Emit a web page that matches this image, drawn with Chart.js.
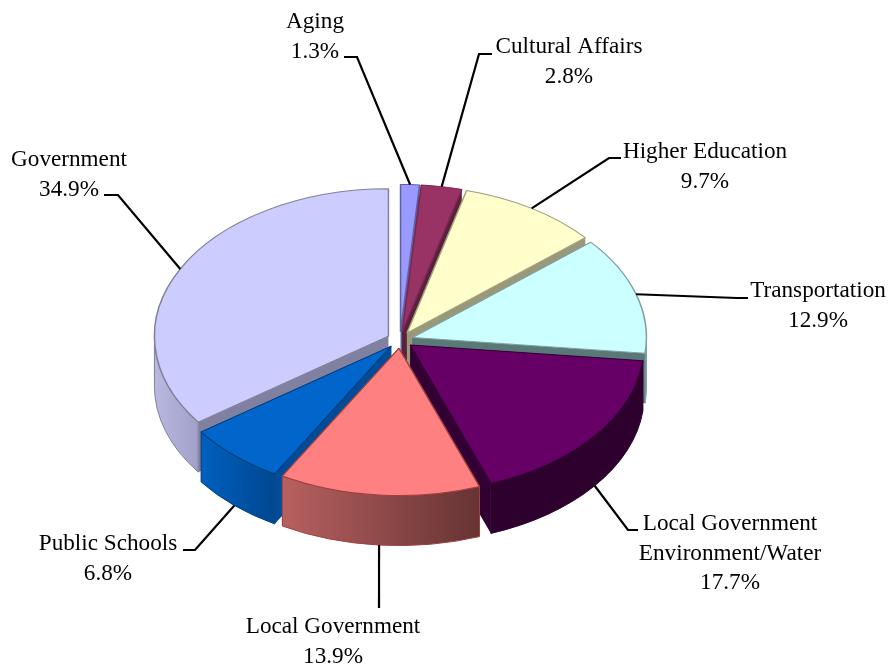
<!DOCTYPE html>
<html>
<head>
<meta charset="utf-8">
<title>Budget share by function</title>
<script src="https://cdn.jsdelivr.net/npm/chart.js@4"></script>
<style>
    html, body { margin: 0; padding: 0; background: #fff; }
    canvas { display: block; }
</style>
</head>
<body>
<canvas id="pie" width="892" height="669"></canvas>
<script>
// Chart data
const categories = ['Aging', 'Cultural Affairs', 'Higher Education', 'Transportation',
    'Local Government Environment/Water', 'Local Government', 'Public Schools', 'Government'];
const shares = [1.3, 2.8, 9.7, 12.9, 17.7, 13.9, 6.8, 34.9];

// Slice colours
const topColors = ['#9999FF', '#993366', '#FFFFCC', '#CCFFFF', '#660066', '#FF8080', '#0066CC', '#CCCCFF'];
const edgeColors = ['#6060A0', '#7A2850', '#A0A080', '#7F9F9F', '#330033', '#A04040', '#004080', '#808098'];
const faceColors = ['#5C5C99', '#5C1F3D', '#99997A', '#5B7878', '#330033', '#804040', '#004C99', '#8080A0'];
const wallLeft = ['#5C5C99', '#5C1F3D', '#99997A', '#5B7878', '#2E002E', '#B86060', '#0060BF', '#B8B8E0'];
const wallRight = ['#5C5C99', '#5C1F3D', '#99997A', '#5B7878', '#2E002E', '#663333', '#00478F', '#A0A0C8'];

// Label placement: text lines, text centre, first baseline, leader elbow and leader end
const labelLines = [
    ['Aging', '1.3%'], ['Cultural Affairs', '2.8%'], ['Higher Education', '9.7%'], ['Transportation', '12.9%'],
    ['Local Government', 'Environment/Water', '17.7%'], ['Local Government', '13.9%'], ['Public Schools', '6.8%'], ['Government', '34.9%']
];
const labelAnchors = [[315, 28], [569, 53], [705, 158], [818, 297], [730, 530], [333, 633], [108, 550], [69, 166]];
const leaderPaths = [
    [[357, 57], [344, 57]], [[479, 54], [492, 54]], [[609, 158], [621, 158]], [[737, 298], [748, 298]],
    [[628, 530], [638, 530]], [[379, 608]], [[195, 550], [183, 550]], [[118, 195], [104, 195]]
];

// 3D look
const TILT = 0.63;
const DEPTH = 50;
const EXPLODE = 13;
const FONT = '23.2px "Liberation Serif"';

const slicePlacement = (arc) => {
    const mid = (arc.startAngle + arc.endAngle) / 2;
    return { mid, ox: Math.cos(mid) * EXPLODE, oy: Math.sin(mid) * EXPLODE * TILT };
};

const rimPoint = (arc, angle, ox, oy) => ({
    x: arc.x + ox + Math.cos(angle) * arc.outerRadius,
    y: arc.y + oy + Math.sin(angle) * arc.outerRadius * TILT
});

const drawRadialFace = (ctx, arc, angle, ox, oy, color) => {
    const rim = rimPoint(arc, angle, ox, oy);
    ctx.beginPath();
    ctx.moveTo(arc.x + ox, arc.y + oy);
    ctx.lineTo(rim.x, rim.y);
    ctx.lineTo(rim.x, rim.y + DEPTH);
    ctx.lineTo(arc.x + ox, arc.y + oy + DEPTH);
    ctx.closePath();
    ctx.fillStyle = color;
    ctx.fill();
};

const drawOuterWall = (ctx, arc, index, ox, oy) => {
    // only the front half of the rim can be seen
    const from = Math.max(arc.startAngle, 0);
    const to = Math.min(arc.endAngle, Math.PI);
    const ranges = [[from, to]];
    if (arc.endAngle > 2 * Math.PI) ranges.push([2 * Math.PI, Math.min(arc.endAngle, 3 * Math.PI)]);
    ranges.forEach(([a, b]) => {
        if (b <= a) return;
        const pa = rimPoint(arc, a, ox, oy);
        const pb = rimPoint(arc, b, ox, oy);
        const grad = ctx.createLinearGradient(Math.min(pa.x, pb.x), 0, Math.max(pa.x, pb.x), 0);
        grad.addColorStop(0, wallLeft[index]);
        grad.addColorStop(1, wallRight[index]);
        const rx = arc.outerRadius;
        ctx.beginPath();
        ctx.ellipse(arc.x + ox, arc.y + oy, rx, rx * TILT, 0, a, b);
        ctx.ellipse(arc.x + ox, arc.y + oy + DEPTH, rx, rx * TILT, 0, b, a, true);
        ctx.closePath();
        ctx.fillStyle = grad;
        ctx.fill();
        ctx.strokeStyle = edgeColors[index];
        ctx.lineWidth = 1;
        ctx.stroke();
    });
};

// Draws the library's arcs squashed and extruded, back slices first
const pie3d = {
    id: 'pie3d',
    beforeDatasetDraw(chart, args) {
        const ctx = chart.ctx;
        const order = args.meta.data.map((arc, i) => i)
            .sort((a, b) => slicePlacement(args.meta.data[a]).oy - slicePlacement(args.meta.data[b]).oy);
        order.forEach((i) => {
            const arc = args.meta.data[i];
            const { ox, oy } = slicePlacement(arc);
            drawRadialFace(ctx, arc, arc.startAngle, ox, oy, faceColors[i]);
            drawRadialFace(ctx, arc, arc.endAngle, ox, oy, faceColors[i]);
            drawOuterWall(ctx, arc, i, ox, oy);
            ctx.save();
            ctx.translate(arc.x + ox, arc.y + oy);
            ctx.scale(1, TILT);
            ctx.translate(-arc.x, -arc.y);
            arc.draw(ctx);
            ctx.restore();
        });
        return false;
    },
    afterDraw(chart) {
        const ctx = chart.ctx;
        const arcs = chart.getDatasetMeta(0).data;
        ctx.save();
        ctx.strokeStyle = '#000';
        ctx.lineWidth = 2.2;
        ctx.lineJoin = 'miter';
        arcs.forEach((arc, i) => {
            const { mid, ox, oy } = slicePlacement(arc);
            const start = rimPoint(arc, mid, ox, oy);
            if (Math.sin(mid) > 0.3) start.y += DEPTH;
            ctx.beginPath();
            ctx.moveTo(start.x, start.y);
            leaderPaths[i].forEach(([x, y]) => ctx.lineTo(x, y));
            ctx.stroke();
        });
        ctx.fillStyle = '#000';
        ctx.font = FONT;
        ctx.textAlign = 'center';
        ctx.textBaseline = 'alphabetic';
        labelLines.forEach((lines, i) => {
            lines.forEach((line, n) => {
                ctx.fillText(line, labelAnchors[i][0], labelAnchors[i][1] + n * 29.5);
            });
        });
        ctx.restore();
    }
};

new Chart(document.getElementById('pie'), {
    type: 'pie',
    data: {
        labels: categories,
        datasets: [{
            data: shares,
            backgroundColor: topColors,
            borderColor: edgeColors,
            borderWidth: 1.5
        }]
    },
    options: {
        responsive: false,
        animation: false,
        radius: 234,
        layout: { padding: { right: 92, top: 11 } },
        events: [],
        plugins: {
            legend: { display: false },
            tooltip: { enabled: false }
        }
    },
    plugins: [pie3d]
});
</script>
</body>
</html>
